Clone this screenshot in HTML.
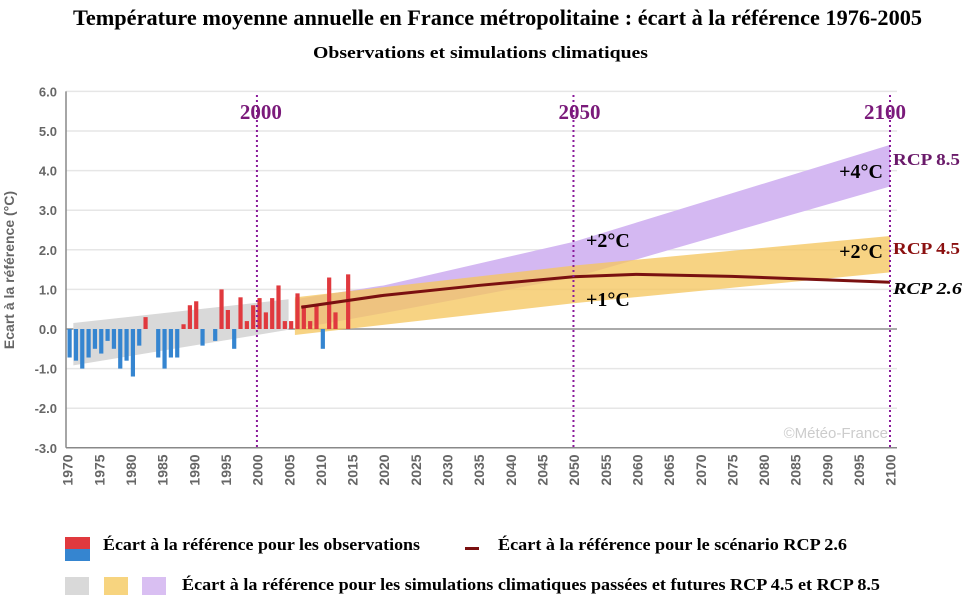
<!DOCTYPE html>
<html><head><meta charset="utf-8">
<style>
html,body{margin:0;padding:0;background:#fff;width:966px;height:603px;overflow:hidden}
svg{display:block}
.ser{font-family:"Liberation Serif",serif;font-weight:bold}
.ax{font-family:"Liberation Sans",sans-serif;font-weight:bold;fill:#666}
</style></head><body>
<svg id="chart" width="966" height="603" viewBox="0 0 966 603">
<text class="ser" x="73" y="25" textLength="849" lengthAdjust="spacingAndGlyphs" font-size="22" fill="#000">Température moyenne annuelle en France métropolitaine : écart à la référence 1976-2005</text>
<text class="ser" x="313" y="58" textLength="335" lengthAdjust="spacingAndGlyphs" font-size="17" fill="#000">Observations et simulations climatiques</text>
<g id="grid"></g>
<g id="bands"></g>
<g id="bars"></g>
<g id="lines"></g>
<g id="axes"></g>
<text x="14" y="270" transform="rotate(-90 14 270)" class="ax" font-size="14" fill="#777" text-anchor="middle">Ecart à la référence (°C)</text>
<text x="888" y="438" text-anchor="end" font-family="Liberation Sans, sans-serif" font-size="15" fill="#ccc">©Météo-France</text>
<text class="ser" x="883" y="178" text-anchor="end" font-size="20">+4°C</text>
<text class="ser" x="883" y="258" text-anchor="end" font-size="20">+2°C</text>
<text class="ser" x="586" y="247" font-size="20">+2°C</text>
<text class="ser" x="586" y="306" font-size="20">+1°C</text>
<text class="ser" x="893" y="165" textLength="67" lengthAdjust="spacingAndGlyphs" font-size="17" fill="#6a1a6a">RCP 8.5</text>
<text class="ser" x="893" y="254" textLength="67" lengthAdjust="spacingAndGlyphs" font-size="17" fill="#8b1010">RCP 4.5</text>
<text class="ser" x="893" y="294" textLength="69" lengthAdjust="spacingAndGlyphs" font-size="17" font-style="italic" fill="#000">RCP 2.6</text>
<g>
<rect x="65" y="537" width="25" height="12" fill="#e0393e"/>
<rect x="65" y="549" width="25" height="12" fill="#3585d0"/>
<text class="ser" x="103" y="550" textLength="317" lengthAdjust="spacingAndGlyphs" font-size="17">Écart à la référence pour les observations</text>
<rect x="465" y="547" width="14" height="3" fill="#7a1010"/>
<text class="ser" x="498" y="550" textLength="349" lengthAdjust="spacingAndGlyphs" font-size="17">Écart à la référence pour le scénario RCP 2.6</text>
<rect x="65" y="577" width="24" height="18" fill="#d9d9d9"/>
<rect x="104" y="577" width="24" height="18" fill="#f7d47f"/>
<rect x="142" y="577" width="24" height="18" fill="#d9bff2"/>
<text class="ser" x="182" y="590" textLength="698" lengthAdjust="spacingAndGlyphs" font-size="17">Écart à la référence pour les simulations climatiques passées et futures RCP 4.5 et RCP 8.5</text>
</g>
</svg>
<script>
const obsYears=[1970,1971,1972,1973,1974,1975,1976,1977,1978,1979,1980,1981,1982,1983,1984,1985,1986,1987,1988,1989,1990,1991,1992,1993,1994,1995,1996,1997,1998,1999,2000,2001,2002,2003,2004,2005,2006,2007,2008,2009,2010,2011,2012,2013,2014];
const obsValues=[-0.72,-0.8,-1.0,-0.72,-0.5,-0.62,-0.3,-0.5,-1.0,-0.8,-1.2,-0.42,0.3,0,-0.72,-1.0,-0.72,-0.72,0.12,0.6,0.7,-0.42,0,-0.3,1.0,0.48,-0.5,0.8,0.2,0.6,0.78,0.42,0.78,1.1,0.2,0.2,0.9,0.6,0.2,0.6,-0.5,1.3,0.42,0,1.38];
const grayYears=[1971,2005];
const grayTop=[0.15,0.75];
const grayBottom=[-0.92,-0.02];
const orangeYears=[2006,2050,2100];
const orangeTop=[0.8,1.6,2.35];
const orangeBottom=[-0.15,0.65,1.43];
const purpleYears=[2006,2020,2050,2100];
const purpleTop=[0.75,1.1,2.2,4.65];
const purpleBottom=[0.0,0.4,1.3,3.6];
const rcp26Years=[2007,2020,2035,2050,2060,2075,2090,2100];
const rcp26Values=[0.55,0.85,1.1,1.32,1.38,1.33,1.24,1.18];
const yTicks=[6,5,4,3,2,1,0,-1,-2,-3];
const xTicks=[];for(let y=1970;y<=2100;y+=5)xTicks.push(y);
const markerYears=[2000,2050,2100];
const markerLabelShift=[4,6,-5];

const NS='http://www.w3.org/2000/svg';
const X=y=>67+(y-1970)*(823/130);
const Y=v=>329-v*39.6;
function mk(tag,attrs,parent){const e=document.createElementNS(NS,tag);for(const k in attrs)e.setAttribute(k,attrs[k]);parent.appendChild(e);return e;}
const grid=document.getElementById('grid'),axes=document.getElementById('axes'),bands=document.getElementById('bands'),bars=document.getElementById('bars'),lines=document.getElementById('lines');
yTicks.forEach(v=>{
 const l=mk('line',{x1:66,x2:897,y1:Y(v),y2:Y(v),stroke:v===0?'#aaa':'#e6e6e6','stroke-width':v===0?2:1.5},grid);
 
 
 const t=mk('text',{x:57,y:Y(v)+5,'text-anchor':'end','font-size':13,class:'ax'},axes);
 t.textContent=v.toFixed(1);
 
 
});
const yax=mk('line',{x1:66,x2:66,y1:Y(6),y2:Y(-3),stroke:'#888','stroke-width':1.5},axes);


const xax=mk('line',{x1:66,x2:897,y1:Y(-3),y2:Y(-3),stroke:'#888','stroke-width':1.5},axes);


xTicks.forEach(y=>{
 const cx=X(y)+2,cy=470;
 const t=mk('text',{x:cx,y:cy,transform:`rotate(-90 ${cx} ${cy})`,'text-anchor':'middle','dominant-baseline':'middle','font-size':14,class:'ax'},axes);
 t.textContent=y;
 
 
});
function band(years,top,bot,fill,op,name){
 let d='M'+years.map((y,i)=>X(y)+','+Y(top[i])).join('L');
 for(let i=years.length-1;i>=0;i--)d+='L'+X(years[i])+','+Y(bot[i]);
 const p=mk('path',{d:d+'Z',fill:fill,'fill-opacity':op},bands);
 
 
}
band(grayYears,grayTop,grayBottom,'#d9d9d9',1,'band-gray-past');
band(purpleYears,purpleTop,purpleBottom,'#d4b8f2',1,'band-rcp85');
band(orangeYears,orangeTop,orangeBottom,'#f5c760',0.78,'band-rcp45');
obsYears.forEach((y,i)=>{
 const v=obsValues[i];if(v===0)return;
 const r=mk('rect',{x:X(y)+0.5,width:4.2,y:Math.min(Y(v),Y(0)),height:Math.abs(Y(v)-Y(0)),fill:v>0?'#e0393e':'#3585d0'},bars);
 
 
});
const pl=mk('polyline',{points:rcp26Years.map((y,i)=>X(y)+','+Y(rcp26Values[i])).join(' '),fill:'none',stroke:'#7a1010','stroke-width':3},lines);


markerYears.forEach((y,i)=>{
 const l=mk('line',{x1:X(y),x2:X(y),y1:95,y2:Y(-3)+2,stroke:'#8a1a9a','stroke-width':2,'stroke-dasharray':'2,3'},lines);
 
 
 const t=mk('text',{x:X(y)+markerLabelShift[i],y:119,'text-anchor':'middle','font-size':21,class:'ser',fill:'#7a1a7a'},lines);
 t.textContent=y;
 
 
});
</script>
</body></html>
